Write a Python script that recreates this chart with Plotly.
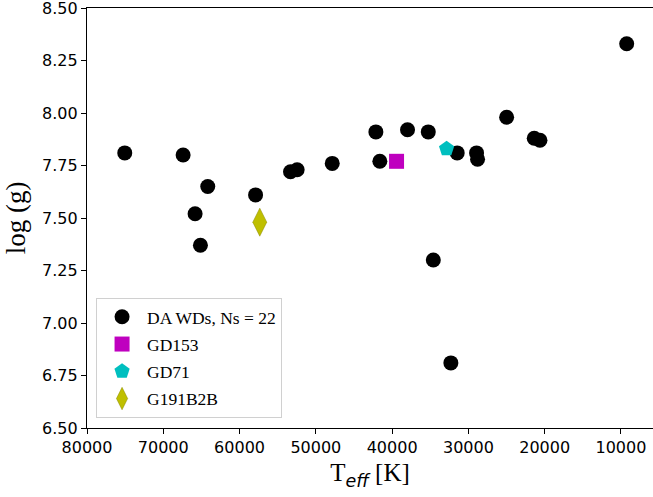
import plotly.graph_objects as go

# DA white dwarfs (Teff [K], log g)
da_teff = [75050, 67400, 64170, 65830, 65130, 57900, 53320, 52450, 47850, 42130,
           41610, 37980, 35260, 31470, 34600, 32300, 28930, 28800, 24990, 21370,
           20620, 9250]
da_logg = [7.81, 7.80, 7.65, 7.52, 7.37, 7.61, 7.72, 7.73, 7.76, 7.91,
           7.77, 7.92, 7.91, 7.81, 7.30, 6.81, 7.81, 7.78, 7.98, 7.88,
           7.87, 8.33]

gd153_teff = [39420]
gd153_logg = [7.77]
gd71_teff = [32860]
gd71_logg = [7.83]
g191_teff = [57350]
g191_logg = [7.48]

x_ticks = [80000, 70000, 60000, 50000, 40000, 30000, 20000, 10000]
y_ticks = [6.50, 6.75, 7.00, 7.25, 7.50, 7.75, 8.00, 8.25, 8.50]

fig = go.Figure()
fig.add_trace(go.Scatter(x=da_teff, y=da_logg, mode="markers",
                         name="DA WDs, Ns = 22", legendgroup="a",
                         marker=dict(symbol="circle", size=15, color="black")))
fig.add_trace(go.Scatter(x=gd153_teff, y=gd153_logg, mode="markers", name="GD153",
                         legendgroup="b",
                         marker=dict(symbol="square", size=15, color="#bf00bf")))
fig.add_trace(go.Scatter(x=gd71_teff, y=gd71_logg, mode="markers", name="GD71",
                         legendgroup="c",
                         marker=dict(symbol="pentagon", size=16, color="#00bfbf")))
fig.add_trace(go.Scatter(x=g191_teff, y=g191_logg, mode="markers", name="G191B2B",
                         legendgroup="d",
                         marker=dict(symbol="diamond-tall", size=20, color="#bfbf00",
                                     line=dict(width=0.5, color="#8a8a00"))))

fig.update_layout(
    width=653, height=497,
    margin=dict(l=87, r=0, t=8, b=69, autoexpand=False),
    plot_bgcolor="white", paper_bgcolor="white",
    showlegend=True,
    legend=dict(x=0.016, y=0.024, xanchor="left", yanchor="bottom",
                bgcolor="white", bordercolor="#d0d0d0", borderwidth=1,
                font=dict(family="Liberation Serif", size=17.5, color="black"),
                itemsizing="trace", itemwidth=40, tracegroupgap=1.5,
                traceorder="grouped"),
    font=dict(family="DejaVu Sans", size=16, color="black"),
)
fig.update_xaxes(range=[80000, 5800], tickvals=x_ticks,
                 ticktext=[str(v) for v in x_ticks], automargin=False,
                 ticklabeloverflow="allow",
                 showgrid=False, zeroline=False,
                 showline=True, linecolor="black", linewidth=1.2, mirror=True,
                 ticks="outside", ticklen=5, tickcolor="black",
                 tickfont=dict(family="DejaVu Sans", size=16),
                 title=dict(text="T<sub><span style=\"font-family:DejaVu Sans\"><i>eff</i></span></sub> [K]",
                            font=dict(family="Liberation Serif", size=25), standoff=7))
fig.update_yaxes(range=[6.5, 8.5], tickvals=y_ticks,
                 ticktext=["%.2f" % v for v in y_ticks], automargin=False,
                 ticklabeloverflow="allow",
                 showgrid=False, zeroline=False,
                 showline=True, linecolor="black", linewidth=1.2, mirror=False,
                 ticks="outside", ticklen=5, tickcolor="black",
                 tickfont=dict(family="DejaVu Sans", size=16),
                 title=dict(text="log (g)", font=dict(family="Liberation Serif", size=27),
                            standoff=8))

fig.write_html("out.html", config={"displayModeBar": False},
               post_script="document.body.style.margin='0';")
